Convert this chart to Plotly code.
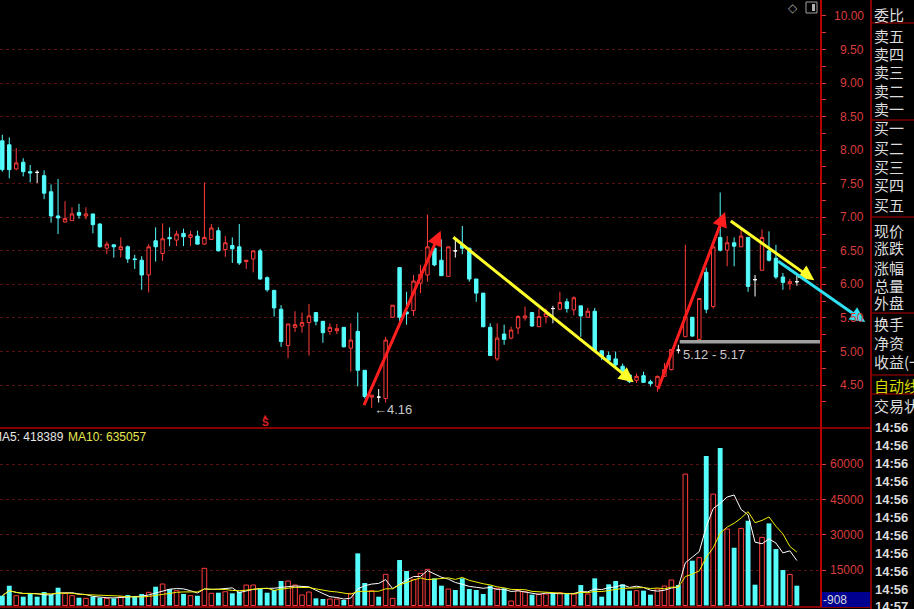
import plotly.graph_objects as go
import pandas as pd

# 画布尺寸(像素), 主图右边界
W, H = 914, 609
PLOT_W = 820

# ---------------- 数据 ----------------
opens = [8.14, 8.08, 7.72, 7.82, 7.68, 7.67, 7.62, 7.38, 7.02, 6.93,
         6.95, 7.07, 7.02, 7.05, 6.90, 6.54, 6.59, 6.52, 6.56, 6.38,
         6.36, 6.14, 6.65, 6.46, 6.70, 6.66, 6.76, 6.70, 6.72, 6.60,
         6.67, 6.80, 6.52, 6.58, 6.56, 6.34, 6.38, 6.50, 6.10, 5.91,
         5.63, 5.09, 5.36, 5.38, 5.43, 5.58, 5.45, 5.30, 5.31, 5.36,
         5.05, 5.30, 4.72, 4.32, 4.32, 4.30, 5.51, 6.25, 5.59, 5.61,
         6.02, 6.14, 6.54, 6.36, 6.12, 6.50, 6.59, 6.54, 6.08, 5.87,
         5.36, 4.89, 5.26, 5.20, 5.35, 5.50, 5.58, 5.37, 5.52, 5.64,
         5.63, 5.74, 5.62, 5.68, 5.51, 5.60, 5.01, 4.94, 4.89, 4.78,
         4.65, 4.57, 4.64, 4.55, 4.48, 4.63, 4.73, 5.02, 5.22, 5.51,
         5.18, 6.18, 5.67, 6.70, 6.51, 6.62, 6.56, 6.70, 6.07, 6.21,
         6.50, 6.39, 6.11, 6.01, 6.04]
highs = [8.23, 8.19, 8.03, 7.88, 7.78, 7.70, 7.70, 7.49, 7.57, 7.24,
         7.15, 7.20, 7.15, 7.05, 6.91, 6.64, 6.59, 6.70, 6.58, 6.44,
         6.42, 6.60, 6.85, 6.91, 6.85, 6.80, 6.83, 6.80, 6.80, 7.52,
         6.90, 6.85, 6.72, 6.70, 6.90, 6.36, 6.50, 6.53, 6.12, 5.92,
         5.69, 5.41, 5.60, 5.58, 5.71, 5.58, 5.45, 5.42, 5.41, 5.36,
         5.42, 5.58, 4.72, 4.35, 4.44, 5.22, 5.69, 6.25, 5.89, 6.14,
         6.29, 7.04, 6.59, 6.67, 6.56, 6.69, 6.87, 6.54, 6.08, 5.87,
         5.42, 5.42, 5.40, 5.37, 5.54, 5.67, 5.59, 5.64, 5.64, 5.68,
         5.89, 5.79, 5.82, 5.68, 5.65, 5.65, 5.02, 5.00, 5.00, 4.82,
         4.67, 4.67, 4.70, 4.58, 4.64, 4.83, 5.03, 5.10, 6.59, 5.51,
         5.79, 6.25, 6.56, 7.37, 6.72, 6.70, 6.81, 6.70, 6.14, 6.82,
         6.79, 6.59, 6.17, 6.08, 6.14]
lows = [7.68, 7.58, 7.70, 7.61, 7.52, 7.51, 7.27, 6.92, 6.75, 6.92,
        6.95, 6.98, 6.97, 6.76, 6.55, 6.45, 6.40, 6.40, 6.32, 6.23,
        5.92, 5.88, 6.34, 6.35, 6.57, 6.57, 6.57, 6.57, 6.60, 6.59,
        6.66, 6.49, 6.41, 6.32, 6.29, 6.23, 6.18, 6.07, 5.89, 5.52,
        5.07, 4.90, 5.29, 5.28, 4.94, 5.39, 5.13, 5.25, 5.26, 5.06,
        4.70, 4.48, 4.30, 4.16, 4.24, 4.24, 5.50, 5.42, 5.40, 5.53,
        5.87, 6.04, 6.27, 6.13, 6.12, 6.40, 6.45, 6.04, 5.74, 5.36,
        4.94, 4.86, 5.10, 5.18, 5.26, 5.46, 5.37, 5.37, 5.42, 5.42,
        5.62, 5.58, 5.54, 5.22, 5.51, 5.00, 4.87, 4.85, 4.75, 4.63,
        4.53, 4.53, 4.53, 4.48, 4.40, 4.63, 4.72, 4.97, 5.22, 5.22,
        5.17, 5.57, 5.64, 6.49, 6.27, 6.27, 6.56, 5.89, 5.82, 6.21,
        6.34, 6.08, 5.92, 5.92, 5.98]
closes = [7.71, 7.71, 7.81, 7.68, 7.66, 7.67, 7.36, 7.02, 6.99, 6.98,
          7.05, 7.03, 7.05, 6.89, 6.56, 6.60, 6.56, 6.56, 6.38, 6.37,
          6.14, 6.56, 6.56, 6.68, 6.68, 6.75, 6.71, 6.74, 6.60, 6.70,
          6.84, 6.50, 6.62, 6.53, 6.32, 6.36, 6.50, 6.08, 5.92, 5.65,
          5.15, 5.41, 5.40, 5.43, 5.53, 5.45, 5.28, 5.36, 5.34, 5.07,
          5.17, 4.72, 4.33, 4.35, 4.32, 5.17, 5.69, 5.51, 5.56, 6.05,
          6.15, 6.56, 6.29, 6.13, 6.56, 6.50, 6.54, 6.08, 5.87, 5.37,
          4.94, 5.20, 5.18, 5.32, 5.52, 5.53, 5.38, 5.52, 5.57, 5.64,
          5.73, 5.64, 5.80, 5.53, 5.60, 5.01, 4.93, 4.87, 4.80, 4.68,
          4.55, 4.63, 4.54, 4.52, 4.63, 4.73, 5.03, 5.02, 5.52, 5.23,
          5.79, 5.63, 6.56, 6.51, 6.62, 6.57, 6.72, 5.97, 6.07, 6.70,
          6.36, 6.11, 6.03, 6.04, 6.04]
volumes = [4160, 8400, 4160, 3740, 5180, 3740, 5730, 4460, 7560, 5180,
           4160, 3310, 3040, 3740, 3310, 3040, 3040, 3740, 4460, 3740,
           4880, 5600, 7980, 9130, 7000, 6290, 4880, 4160, 4160, 15800,
           5180, 5440, 5860, 5180, 5860, 8700, 8700, 7300, 5440, 6580,
           10400, 10400, 8700, 4460, 5730, 3040, 2760, 2760, 2760, 2335,
           5180, 22160, 9560, 6290, 3740, 13250, 3040, 19320, 14650, 11120,
           13660, 15360, 11540, 8420, 7000, 6580, 11540, 7000, 6580, 4880,
           8420, 7290, 7290, 1910, 6300, 5870, 4600, 4880, 4880, 5170,
           5450, 5170, 4880, 8700, 4880, 11540, 3750, 9000, 10400, 9000,
           6300, 6300, 6300, 4600, 7000, 8280, 10830, 8700, 55830, 19040,
           20310, 63480, 47340, 66870, 32480, 24550, 32770, 36020, 8850, 28940,
           34890, 23990, 15070, 13230, 8420]

price_ticks = [4.5, 5.0, 5.5, 6.0, 6.5, 7.0, 7.5, 8.0, 8.5, 9.0, 9.5, 10.0]
price_minor = [4.25, 4.75, 5.25, 5.75, 6.25, 6.75, 7.25, 7.75, 8.25, 8.75,
               9.25, 9.75, 10.0]
vol_ticks = [15000, 30000, 45000, 60000]

# 趋势箭头: (起点序号, 起点价, 终点序号, 终点价, 颜色)
trend_arrows = [
    (51.8, 4.18, 62.9, 6.80, '#FF1E1E'),
    (64.5, 6.72, 90.6, 4.54, '#FFFF2A'),
    (94.0, 4.42, 103.7, 7.08, '#FF1E1E'),
    (104.3, 6.96, 116.5, 6.06, '#FFFF2A'),
    (111.1, 6.36, 123.8, 5.44, '#30E0F0'),
]
low_mark = (53, 4.16)
band_low, band_high, band_start = 5.12, 5.17, 97.2

quote_labels = ['委比', '卖五', '卖四', '卖三', '卖二', '卖一',
                '买一', '买二', '买三', '买四', '买五',
                '现价', '涨跌', '涨幅', '总量', '外盘',
                '换手', '净资', '收益(一)', '自动线', '交易状态']
quote_rows = [15, 35, 53, 72, 90, 108, 128, 147, 166, 185, 204,
              230, 248, 267, 285, 303, 323, 342, 361, 385, 405]
quote_seps = [23, 120, 217, 313, 375, 394]
time_labels = ['14:56'] * 10 + ['14:57']
time_rows = [427, 445, 463, 481, 499, 517, 535, 553, 571, 589, 606]
ma5_text = 'MA5: 418389'
ma10_text = 'MA10: 635057'
last_diff = '-908'

# ---------------- 颜色 ----------------
RED = '#FF3C3C'
CYAN = '#54FCFC'
FRAME = '#B40000'
GRID = '#5A1010'
LABEL = '#D83C3C'
TEXT = '#DCDCDC'
NUM_FONT = 'Liberation Sans'
CJK_FONT = 'Noto Sans CJK SC'


def px(x):
    return x / PLOT_W


def py(y):
    return 1 - y / H


df = pd.DataFrame({'o': opens, 'h': highs, 'l': lows, 'c': closes, 'v': volumes})
df['ma5'] = df['v'].rolling(5, min_periods=1).mean()
df['ma10'] = df['v'].rolling(10, min_periods=1).mean()
up = df['c'] > df['o']
down = df['c'] < df['o']
flat = df['c'] == df['o']


def candles(d, up_line, up_fill, dn_line, dn_fill):
    return go.Candlestick(
        x=d.index, open=d['o'], high=d['h'], low=d['l'], close=d['c'],
        increasing=dict(line=dict(color=up_line, width=1), fillcolor=up_fill),
        decreasing=dict(line=dict(color=dn_line, width=1), fillcolor=dn_fill),
        whiskerwidth=0, showlegend=False, hoverinfo='skip',
        xaxis='x', yaxis='y')


fig = go.Figure()
fig.add_trace(candles(df[up], RED, '#000000', RED, '#000000'))
fig.add_trace(candles(df[down], CYAN, CYAN, CYAN, CYAN))
fig.add_trace(candles(df[flat], '#FFFFFF', '#FFFFFF', '#FFFFFF', '#FFFFFF'))

# 成交量
vol_up = df[up]
vol_dn = df[~up]
fig.add_trace(go.Bar(x=vol_dn.index, y=vol_dn['v'], width=0.7,
                     marker=dict(color=CYAN, line=dict(width=0)),
                     xaxis='x', yaxis='y2', showlegend=False, hoverinfo='skip'))
fig.add_trace(go.Bar(x=vol_up.index, y=vol_up['v'], width=0.66,
                     marker=dict(color='#000000', line=dict(color=RED, width=1)),
                     xaxis='x', yaxis='y2', showlegend=False, hoverinfo='skip'))
fig.add_trace(go.Scatter(x=df.index, y=df['ma5'], mode='lines',
                         line=dict(color='#FFFFFF', width=1),
                         xaxis='x', yaxis='y2', showlegend=False, hoverinfo='skip'))
fig.add_trace(go.Scatter(x=df.index, y=df['ma10'], mode='lines',
                         line=dict(color='#F0F000', width=1),
                         xaxis='x', yaxis='y2', showlegend=False, hoverinfo='skip'))

shapes = []
annotations = []


def note(x, y, text, size, color, family=NUM_FONT, xanchor='left', **kw):
    # 纸面坐标下的文字标注, 锚点显式给出
    d = dict(xref='paper', yref='paper', x=x, y=y, text=text, showarrow=False,
             xanchor=xanchor, yanchor='middle',
             font=dict(family=family, size=size, color=color))
    d.update(kw)
    return d


# 灰色区间带
shapes.append(dict(type='rect', xref='x', yref='y', x0=band_start, x1=117.32,
                   y0=band_low, y1=band_high, fillcolor='#A0A0A0',
                   line=dict(width=0), layer='above'))
annotations.append(dict(xref='x', yref='y', x=band_start + 0.2, y=band_low - 0.16,
                        text=f'{band_low:.2f} - {band_high:.2f}', showarrow=False,
                        xanchor='left', yanchor='middle',
                        font=dict(family=NUM_FONT, size=13, color='#C8C8C8')))
annotations.append(dict(xref='x', yref='y', x=low_mark[0], y=low_mark[1] - 0.02,
                        text=f'←{low_mark[1]:.2f}', showarrow=False,
                        xanchor='left', yanchor='middle',
                        font=dict(family=NUM_FONT, size=13, color='#C8C8C8')))

# 趋势箭头
for tk, tp, hk, hp, col in trend_arrows:
    annotations.append(dict(x=hk, y=hp, ax=tk, ay=tp, xref='x', yref='y',
                            axref='x', ayref='y', text='', showarrow=True,
                            arrowhead=2, arrowsize=1, arrowwidth=3,
                            arrowcolor=col, standoff=0, startstandoff=0))

# 坐标刻度文字(右对齐)
for v in price_ticks:
    annotations.append(dict(xref='paper', yref='y', x=px(866), y=v,
                            text=f'{v:.2f}', showarrow=False, xanchor='right',
                            yanchor='middle',
                            font=dict(family=NUM_FONT, size=12, color=LABEL)))
for v in vol_ticks:
    annotations.append(dict(xref='paper', yref='y2', x=px(866), y=v,
                            text=str(v), showarrow=False, xanchor='right',
                            yanchor='middle',
                            font=dict(family=NUM_FONT, size=12, color=LABEL)))

# 均量标签
annotations.append(note(px(-10), py(437), ma5_text, 12, '#E8E8E8'))
annotations.append(note(px(66), py(437), ma10_text, 12, '#E8E850'))

# 卖出信号 S
annotations.append(note(px(265), py(422), '<b>S</b>', 10, '#E02020', xanchor='center'))
annotations.append(note(px(265), py(415.5), '▲', 5, '#E02020',
                        family='DejaVu Sans', xanchor='center'))

# 右上角图标
annotations.append(note(px(793), py(8), '◇', 12, '#A0A0A0',
                        family='DejaVu Sans', xanchor='center'))
shapes.append(dict(type='rect', xref='paper', yref='paper', x0=px(806), x1=px(817),
                   y0=py(13), y1=py(2), line=dict(color='#A0A0A0', width=1)))
shapes.append(dict(type='rect', xref='paper', yref='paper', x0=px(812), x1=px(815),
                   y0=py(11), y1=py(4), fillcolor='#B0B0B0', line=dict(width=0)))

# 右侧行情栏
for lab, yy in zip(quote_labels, quote_rows):
    col = '#D8D800' if lab == '自动线' else TEXT
    annotations.append(note(px(872), py(yy), lab, 15, col, family=CJK_FONT))
for yy in quote_seps:
    shapes.append(dict(type='line', xref='paper', yref='paper', x0=px(871),
                       x1=px(914), y0=py(yy), y1=py(yy),
                       line=dict(color=FRAME, width=1)))
for lab, yy in zip(time_labels, time_rows):
    annotations.append(note(px(873), py(yy), f'<b>{lab}</b>', 13, TEXT))

# 边框线
shapes.append(dict(type='line', xref='paper', yref='paper', x0=0, x1=px(871),
                   y0=py(428), y1=py(428), line=dict(color=FRAME, width=1.5)))
shapes.append(dict(type='line', xref='paper', yref='paper', x0=0, x1=px(871),
                   y0=py(607), y1=py(607), line=dict(color=FRAME, width=1.5)))
shapes.append(dict(type='line', xref='paper', yref='paper', x0=px(871), x1=px(871),
                   y0=0, y1=1, line=dict(color=FRAME, width=1.5)))

# 最新差值框
shapes.append(dict(type='rect', xref='paper', yref='paper', x0=px(822), x1=px(870),
                   y0=py(607), y1=py(592), fillcolor='#000090', line=dict(width=0)))
annotations.append(note(px(821), py(599.5), last_diff, 12, '#D8D8D8'))

fig.update_layout(
    width=W, height=H,
    margin=dict(l=0, r=W - PLOT_W, t=0, b=0, pad=0),
    paper_bgcolor='#000000',
    plot_bgcolor='#000000',
    showlegend=False,
    barmode='overlay',
    boxgap=0.3,
    xaxis=dict(domain=[0, 1], range=[-0.33, 117.32], visible=False,
               rangeslider=dict(visible=False), fixedrange=True),
    yaxis=dict(domain=[py(428), 1], range=[3.860, 10.238], anchor='x',
               side='right', showline=True, linecolor=FRAME, linewidth=1.5,
               ticks='outside', ticklen=4, tickcolor=LABEL, tickwidth=1,
               tickvals=price_ticks[:-1], showticklabels=False,
               showgrid=True, gridcolor=GRID, griddash='dot', gridwidth=1,
               zeroline=False,
               minor=dict(tickvals=price_minor, ticks='outside', ticklen=4,
                          tickcolor=LABEL, showgrid=False)),
    yaxis2=dict(domain=[py(607), py(428)], range=[-637, 75420], anchor='x',
                side='right', showline=True, linecolor=FRAME, linewidth=1.5,
                ticks='outside', ticklen=4, tickcolor=LABEL,
                tickvals=vol_ticks, showticklabels=False,
                showgrid=True, gridcolor=GRID, griddash='dot', gridwidth=1,
                zeroline=False),
    shapes=shapes,
    annotations=annotations,
)

# 去掉页面默认边距, 让图表贴齐窗口
fig.write_html("out.html", config={'displayModeBar': False},
               post_script="document.body.style.margin='0';"
                           "document.body.style.background='#000';")
